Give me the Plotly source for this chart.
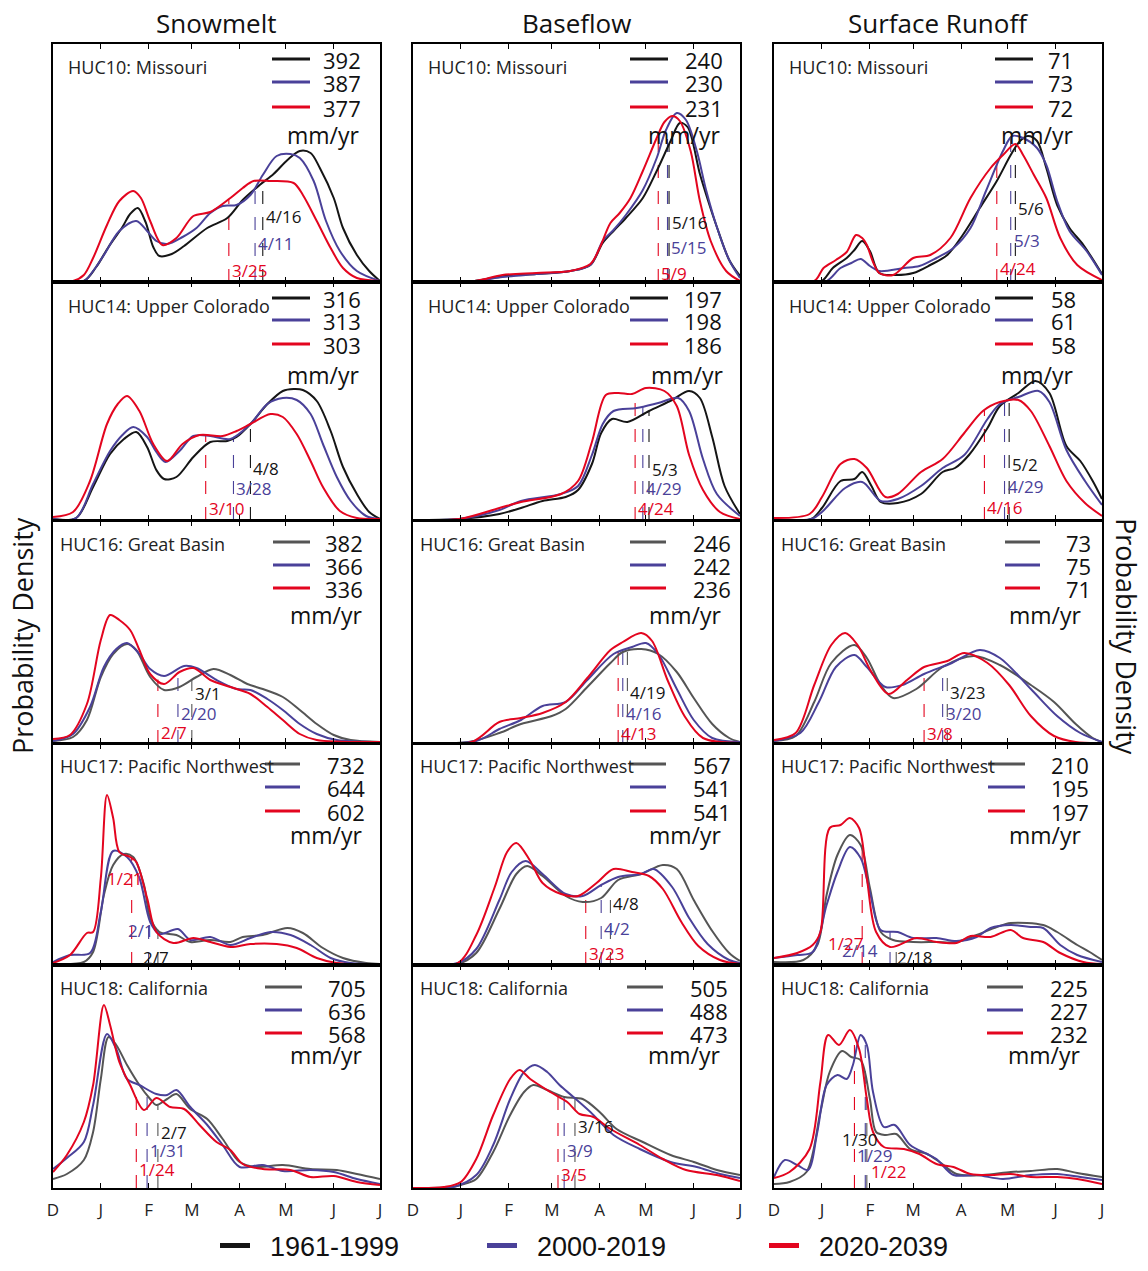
import numpy as np
import plotly.graph_objects as go

# ---------------- data ----------------
MONTH_TICK_DAYS = [0, 31, 62, 90, 121, 151, 182, 212]
MONTH_TICK_TEXT = ["D", "J", "F", "M", "A", "M", "J", "J"]
MONTH_START = {12: 0, 1: 31, 2: 62, 3: 90, 4: 121, 5: 151, 6: 182, 7: 212}

COMPONENTS = ["Snowmelt", "Baseflow", "Surface Runoff"]
REGIONS = ["HUC10: Missouri", "HUC14: Upper Colorado", "HUC16: Great Basin",
           "HUC17: Pacific Northwest", "HUC18: California"]
PERIODS = ["1961-1999", "2000-2019", "2020-2039"]

# annual totals (mm/yr), [region][period]
TOTAL_SNOW = [[392, 387, 377], [316, 313, 303], [382, 366, 336], [732, 644, 602], [705, 636, 568]]
TOTAL_BASE = [[240, 230, 231], [197, 198, 186], [246, 242, 236], [567, 541, 541], [505, 488, 473]]
TOTAL_SURF = [[71, 73, 72], [58, 61, 58], [73, 75, 71], [210, 195, 197], [225, 227, 232]]

# median (centroid) dates, [region][period]
MEDIAN_SNOW = [["4/16", "4/11", "3/25"], ["4/8", "3/28", "3/10"], ["3/1", "2/20", "2/7"],
               ["2/7", "2/1", "1/21"], ["2/7", "1/31", "1/24"]]
MEDIAN_BASE = [["5/16", "5/15", "5/9"], ["5/3", "4/29", "4/24"], ["4/19", "4/16", "4/13"],
               ["4/8", "4/2", "3/23"], ["3/16", "3/9", "3/5"]]
MEDIAN_SURF = [["5/6", "5/3", "4/24"], ["5/2", "4/29", "4/16"], ["3/23", "3/20", "3/8"],
               ["2/18", "2/14", "1/27"], ["1/30", "1/29", "1/22"]]

# probability density curves (arbitrary units), day = days since Dec 1
# each: [(days, density) for 1961-1999, 2000-2019, 2020-2039]
SNOW_MISSOURI = [
    ([0, 20, 28, 36, 45, 50, 55, 60, 65, 69, 77, 85, 100, 113, 123, 134, 143, 152, 160, 167, 173, 182, 188, 197, 205, 212],
     [0, 1, 15, 35, 55, 68, 74, 60, 35, 26, 28, 36, 54, 64, 82, 97, 108, 122, 131, 129, 114, 84, 54, 27, 11, 1]),
    ([0, 20, 26, 33, 43, 54, 61, 67, 74, 84, 93, 102, 110, 119, 128, 136, 145, 154, 160, 169, 177, 186, 197, 212],
     [0, 1, 11, 27, 51, 61, 51, 41, 38, 45, 54, 69, 76, 77, 87, 107, 126, 128, 124, 101, 61, 31, 11, 1]),
    ([0, 13, 20, 26, 35, 43, 52, 57, 63, 71, 80, 91, 102, 115, 123, 130, 141, 156, 162, 171, 180, 188, 197, 212],
     [1, 1, 7, 24, 57, 81, 91, 84, 61, 37, 44, 66, 70, 84, 94, 101, 101, 99, 87, 61, 34, 14, 4, 1]),
]
BASE_MISSOURI = [
    ([0, 40, 58, 80, 102, 115, 123, 130, 138, 149, 158, 167, 173, 178, 186, 192, 197, 205, 212],
     [0, 1, 6, 8, 11, 17, 39, 51, 64, 84, 111, 141, 159, 155, 108, 78, 55, 22, 6]),
    ([0, 40, 58, 80, 102, 115, 123, 130, 138, 149, 158, 164, 171, 177, 184, 190, 197, 205, 212],
     [0, 1, 5, 8, 11, 17, 41, 52, 67, 92, 124, 152, 169, 162, 131, 92, 55, 22, 4]),
    ([0, 40, 58, 80, 102, 115, 121, 128, 134, 141, 149, 158, 163, 168, 173, 180, 186, 193, 203, 212],
     [0, 1, 7, 9, 11, 18, 34, 59, 69, 84, 111, 144, 160, 166, 161, 131, 81, 41, 11, 1]),
]
SURF_MISSOURI = [
    ([0, 30, 38, 47, 52, 57, 62, 68, 79, 90, 101, 112, 122, 133, 144, 153, 159, 164, 170, 176, 183, 191, 200, 212],
     [0, 0, 14, 24, 32, 41, 31, 9, 7, 9, 17, 27, 47, 74, 101, 127, 141, 146, 141, 114, 77, 54, 37, 8]),
    ([0, 33, 43, 50, 56, 62, 68, 84, 94, 105, 116, 127, 137, 148, 154, 161, 170, 176, 183, 191, 202, 212],
     [0, 0, 14, 19, 23, 16, 11, 14, 16, 24, 34, 54, 91, 131, 146, 144, 134, 117, 81, 51, 31, 7]),
    ([0, 26, 32, 40, 47, 53, 57, 60, 64, 68, 77, 90, 101, 114, 127, 140, 148, 156, 161, 168, 176, 185, 196, 212],
     [0, 1, 14, 22, 30, 47, 44, 37, 20, 9, 7, 24, 27, 44, 84, 114, 127, 138, 127, 107, 84, 44, 17, 2]),
]
SNOW_UPPERCO = [
    ([0, 15, 26, 37, 46, 54, 61, 67, 72, 80, 91, 102, 113, 119, 128, 139, 149, 156, 162, 171, 180, 188, 197, 205, 212],
     [1, 2, 33, 66, 81, 88, 73, 50, 41, 43, 63, 78, 79, 83, 96, 116, 129, 131, 130, 119, 89, 53, 26, 8, 1]),
    ([0, 15, 26, 37, 45, 52, 61, 67, 73, 82, 91, 102, 115, 128, 139, 149, 158, 167, 175, 184, 193, 203, 212],
     [1, 2, 36, 69, 85, 93, 83, 68, 58, 69, 84, 84, 81, 96, 116, 122, 120, 106, 76, 43, 19, 4, 1]),
    ([0, 13, 24, 35, 42, 48, 56, 65, 74, 84, 95, 110, 119, 128, 141, 149, 158, 167, 175, 186, 197, 212],
     [3, 8, 39, 96, 116, 124, 109, 76, 59, 76, 85, 84, 89, 96, 106, 103, 86, 59, 33, 9, 2, 1]),
]
BASE_UPPERCO = [
    ([0, 30, 56, 70, 84, 99, 107, 116, 122, 129, 139, 153, 168, 179, 186, 194, 202, 212],
     [0, 1, 6, 12, 19, 23, 30, 56, 87, 101, 98, 109, 120, 129, 122, 83, 34, 6]),
    ([0, 30, 56, 70, 96, 107, 116, 123, 130, 145, 159, 172, 179, 188, 197, 212],
     [0, 1, 10, 19, 26, 34, 65, 96, 109, 112, 117, 122, 109, 61, 26, 4]),
    ([0, 30, 56, 70, 96, 107, 116, 125, 133, 142, 151, 163, 171, 179, 188, 199, 212],
     [0, 1, 12, 18, 26, 39, 78, 125, 127, 126, 132, 129, 114, 65, 30, 8, 1]),
]
SURF_UPPERCO = [
    ([0, 24, 31, 43, 52, 57, 63, 69, 80, 95, 109, 117, 126, 138, 146, 158, 169, 178, 189, 198, 206, 212],
     [0, 1, 12, 39, 41, 48, 34, 18, 17, 26, 48, 52, 65, 92, 114, 127, 139, 127, 74, 59, 39, 21]),
    ([0, 24, 31, 46, 57, 69, 80, 95, 109, 123, 138, 146, 158, 171, 178, 189, 201, 212],
     [0, 1, 8, 32, 38, 19, 21, 34, 52, 65, 101, 116, 123, 129, 118, 70, 39, 15]),
    ([0, 23, 31, 43, 52, 60, 72, 80, 95, 109, 123, 135, 146, 158, 166, 178, 189, 201, 212],
     [2, 6, 23, 56, 61, 52, 23, 26, 48, 61, 87, 109, 118, 120, 109, 74, 39, 17, 4]),
]
SNOW_GREATBASIN = [
    ([0, 13, 22, 31, 39, 48, 54, 63, 72, 82, 93, 104, 115, 126, 136, 149, 160, 171, 182, 193, 212],
     [2, 6, 23, 66, 89, 99, 93, 66, 53, 56, 66, 74, 68, 59, 54, 46, 33, 19, 8, 3, 1]),
    ([0, 13, 24, 33, 41, 48, 56, 63, 72, 85, 93, 106, 119, 128, 139, 149, 160, 171, 184, 212],
     [2, 9, 36, 76, 94, 100, 89, 74, 67, 77, 75, 63, 54, 53, 44, 33, 19, 9, 3, 1]),
    ([0, 11, 22, 31, 37, 43, 50, 56, 63, 72, 82, 91, 102, 115, 128, 139, 149, 160, 171, 212],
     [4, 8, 39, 103, 128, 123, 113, 93, 69, 59, 71, 75, 63, 56, 49, 36, 23, 9, 3, 1]),
]
BASE_GREATBASIN = [
    ([0, 36, 56, 70, 90, 99, 113, 128, 136, 148, 159, 171, 182, 194, 205, 212],
     [0, 1, 10, 19, 27, 34, 56, 80, 91, 94, 89, 71, 45, 19, 5, 1]),
    ([0, 41, 56, 70, 84, 99, 113, 130, 142, 151, 159, 171, 182, 194, 212],
     [0, 2, 14, 23, 37, 41, 63, 89, 96, 100, 89, 54, 23, 5, 1]),
    ([0, 38, 56, 70, 84, 99, 113, 128, 136, 148, 155, 165, 176, 188, 212],
     [0, 1, 21, 25, 30, 41, 65, 93, 101, 110, 102, 63, 27, 5, 0]),
]
SURF_GREATBASIN = [
    ([0, 14, 26, 37, 52, 60, 69, 77, 92, 109, 129, 146, 166, 181, 195, 206, 212],
     [2, 7, 41, 80, 98, 85, 58, 45, 54, 76, 87, 78, 58, 41, 19, 5, 1]),
    ([0, 17, 29, 40, 52, 60, 72, 83, 97, 115, 133, 146, 166, 183, 198, 212],
     [2, 10, 41, 76, 88, 76, 56, 58, 69, 80, 93, 85, 54, 27, 10, 1]),
    ([0, 14, 26, 37, 46, 54, 63, 74, 86, 97, 112, 123, 138, 152, 166, 181, 195, 212],
     [3, 10, 58, 98, 110, 98, 71, 49, 63, 76, 82, 90, 80, 58, 27, 7, 1, 0]),
]
SNOW_PACNW = [
    ([0, 20, 26, 33, 39, 46, 52, 59, 63, 69, 80, 89, 102, 115, 123, 136, 152, 162, 175, 188, 203, 212],
     [1, 3, 13, 70, 100, 111, 108, 80, 47, 33, 30, 23, 25, 23, 28, 30, 37, 32, 17, 7, 2, 1]),
    ([0, 11, 24, 31, 39, 48, 56, 63, 69, 81, 89, 102, 115, 128, 141, 154, 167, 180, 193, 212],
     [3, 10, 12, 53, 114, 108, 87, 43, 31, 36, 25, 28, 20, 27, 33, 30, 20, 7, 2, 1]),
    ([0, 11, 22, 26, 31, 35, 39, 43, 50, 54, 61, 67, 78, 91, 102, 115, 128, 145, 158, 171, 184, 212],
     [2, 10, 32, 33, 87, 170, 147, 113, 108, 103, 67, 33, 22, 27, 23, 18, 21, 21, 17, 7, 2, 0]),
]
BASE_PACNW = [
    ([0, 29, 41, 56, 67, 74, 84, 99, 110, 122, 133, 148, 162, 171, 182, 194, 205, 212],
     [0, 1, 12, 56, 91, 99, 89, 69, 63, 67, 85, 91, 100, 96, 65, 34, 12, 4]),
    ([0, 29, 41, 56, 64, 73, 84, 99, 110, 122, 133, 148, 156, 168, 179, 191, 205, 212],
     [0, 2, 16, 65, 93, 104, 91, 71, 69, 80, 88, 91, 96, 78, 47, 21, 5, 2]),
    ([0, 29, 41, 53, 61, 67, 76, 84, 96, 107, 119, 130, 142, 153, 162, 174, 185, 199, 212],
     [0, 2, 30, 78, 113, 122, 104, 82, 71, 69, 82, 96, 93, 89, 76, 43, 19, 5, 1]),
]
SURF_PACNW = [
    ([0, 19, 28, 34, 41, 49, 56, 62, 69, 77, 90, 105, 118, 131, 144, 153, 174, 183, 196, 204, 212],
     [3, 5, 20, 70, 110, 130, 120, 77, 33, 25, 23, 23, 23, 30, 38, 42, 40, 33, 20, 13, 5]),
    ([0, 15, 25, 34, 41, 49, 56, 62, 69, 80, 90, 105, 118, 131, 140, 153, 166, 174, 185, 196, 212],
     [7, 10, 13, 60, 93, 118, 107, 73, 35, 33, 27, 27, 24, 28, 37, 40, 38, 37, 20, 10, 3]),
    ([0, 15, 25, 30, 36, 43, 49, 55, 60, 66, 75, 92, 105, 118, 127, 140, 153, 161, 174, 185, 200, 212],
     [7, 12, 20, 33, 137, 140, 147, 137, 87, 33, 18, 27, 23, 22, 29, 28, 35, 27, 23, 12, 3, 1]),
]
SNOW_CALIF = [
    ([0, 9, 20, 26, 31, 36, 41, 48, 56, 63, 67, 74, 80, 89, 100, 110, 121, 132, 149, 167, 184, 197, 212],
     [9, 14, 28, 56, 109, 151, 143, 123, 103, 89, 83, 89, 94, 79, 69, 49, 26, 21, 23, 19, 18, 14, 9]),
    ([0, 9, 20, 26, 35, 41, 48, 56, 67, 74, 80, 89, 100, 110, 121, 136, 149, 167, 182, 197, 212],
     [19, 30, 46, 83, 154, 139, 109, 103, 94, 93, 98, 81, 63, 43, 21, 23, 17, 18, 16, 9, 4]),
    ([0, 9, 20, 26, 33, 37, 43, 50, 59, 67, 76, 85, 95, 106, 115, 123, 136, 154, 167, 182, 197, 212],
     [16, 33, 66, 103, 183, 163, 126, 103, 78, 90, 81, 79, 63, 46, 38, 24, 19, 18, 11, 12, 6, 3]),
]
BASE_CALIF = [
    ([0, 26, 31, 41, 52, 63, 72, 78, 87, 98, 110, 121, 132, 149, 167, 182, 197, 212],
     [0, 1, 3, 9, 36, 73, 96, 103, 98, 91, 89, 76, 59, 46, 33, 26, 18, 13]),
    ([0, 26, 41, 52, 63, 72, 79, 87, 95, 104, 115, 130, 147, 167, 184, 199, 212],
     [0, 1, 13, 43, 89, 116, 123, 116, 103, 91, 76, 53, 39, 26, 21, 14, 10]),
    ([0, 20, 31, 41, 52, 63, 69, 76, 89, 100, 108, 117, 128, 147, 162, 177, 197, 212],
     [0, 1, 6, 29, 73, 109, 118, 109, 96, 86, 74, 71, 59, 43, 29, 18, 13, 7]),
]
SURF_CALIF = [
    ([0, 10, 21, 30, 36, 44, 50, 56, 62, 66, 72, 79, 88, 99, 107, 118, 135, 153, 166, 183, 196, 212],
     [4, 6, 16, 76, 116, 137, 131, 128, 89, 56, 53, 54, 39, 34, 26, 14, 13, 16, 17, 19, 15, 11]),
    ([0, 7, 15, 22, 28, 34, 41, 47, 51, 56, 60, 64, 71, 78, 88, 99, 105, 116, 131, 148, 166, 183, 198, 212],
     [11, 28, 23, 18, 56, 103, 113, 109, 123, 153, 143, 96, 61, 63, 43, 34, 29, 13, 13, 9, 13, 14, 11, 8]),
    ([0, 10, 23, 30, 35, 42, 49, 55, 60, 64, 71, 84, 94, 105, 116, 127, 140, 153, 166, 183, 196, 212],
     [10, 16, 39, 106, 153, 143, 158, 139, 89, 56, 41, 39, 34, 24, 21, 14, 13, 14, 11, 11, 9, 4]),
]

CURVES = [
    [SNOW_MISSOURI, BASE_MISSOURI, SURF_MISSOURI],
    [SNOW_UPPERCO, BASE_UPPERCO, SURF_UPPERCO],
    [SNOW_GREATBASIN, BASE_GREATBASIN, SURF_GREATBASIN],
    [SNOW_PACNW, BASE_PACNW, SURF_PACNW],
    [SNOW_CALIF, BASE_CALIF, SURF_CALIF],
]
TOTALS = [TOTAL_SNOW, TOTAL_BASE, TOTAL_SURF]
MEDIANS = [MEDIAN_SNOW, MEDIAN_BASE, MEDIAN_SURF]

# ---------------- layout / style ----------------
# page body has an 8px margin, so the figure is 16px smaller than the window
W, H = 1132, 1255
OFF = 8
COL_PX = [(53, 380), (413, 740), (774, 1102)]
ROW_PX = [(44, 282), (282, 520), (521, 743), (744, 965), (965, 1188)]
PL, PR, PT, PB = 53, 1102, 44, 1188
FONT = "Open Sans, Noto Sans, sans-serif"
LEGFONT = "Liberation Sans, Arial, sans-serif"
BLUE = "#4a4199"
RED = "#e3051f"
BLACK = "#151515"
DARK = [BLACK, BLACK, "#555555", "#555555", "#555555"]

# median label placement per panel: (x shift px, height above baseline) for each period
LABEL_POS = [
    [[(1, 66), (1, 39), (1, 12)], [(1, 60), (1, 35), (1, 9)], [(1, 74), (1, 42), (1, 14)]],
    [[(1, 52), (1, 32), (1, 12)], [(1, 51), (1, 32), (1, 12)], [(1, 56), (1, 34), (1, 13)]],
    [[(1, 50), (1, 30), (1, 11)], [(1, 51), (1, 30), (1, 10)], [(1, 51), (1, 30), (1, 10)]],
    [[(-17, 8), (-23, 35), (-27, 87)], [(1, 62), (1, 37), (1, 12)], [(-1, 8), (-50, 15), (-36, 22)]],
    [[(1, 56), (1, 38), (1, 19)], [(1, 62), (1, 38), (1, 14)], [(-27, 49), (-10, 33), (15, 17)]],
]
# in-panel legend: line x (from panel right), line y (from panel top), number right edge, mm/yr
LEG_LINE_X = [
    [(-108, -70), (-110, -72), (-107, -69)],
    [(-108, -70), (-110, -72), (-107, -69)],
    [(-107, -70), (-110, -74), (-97, -62)],
    [(-115, -80), (-110, -74), (-114, -77)],
    [(-115, -78), (-113, -77), (-115, -79)],
]
LEG_LINE_Y = [(15, 38, 63), (16, 38, 62), (21, 44, 67), (20, 43, 67), (22, 45, 68)]
NUM_RIGHT = [[-17, -15, -27], [-17, -16, -24], [-15, -7, -9], [-13, -7, -11], [-12, -10, -12]]
MM_RIGHT = [[-18, -17, -26], [-18, -14, -26], [-15, -16, -18], [-15, -16, -18], [-15, -17, -19]]
MM_Y = [91, 93, 94, 91, 90]
HUC_X = [13, 13, 5, 5, 5]
HUC_Y = [23, 24, 23, 22, 23]


def px_x(px):
    return (px - PL) / (PR - PL)


def px_y(py):
    return (PB - py) / (PB - PT)


def date_to_day(s):
    m, d = (int(v) for v in s.split("/"))
    return MONTH_START[m] + d - 1


fig = go.Figure()
layout = dict(
    width=W, height=H,
    margin=dict(l=PL - OFF, r=W - (PR - OFF), t=PT - OFF, b=H - (PB - OFF), autoexpand=False),
    paper_bgcolor="white", plot_bgcolor="white",
    font=dict(family=FONT, color="#1a1a1a"),
)
shapes, annotations = [], []

for r in range(5):
    for c in range(3):
        n = r * 3 + c + 1
        xs = "x" if n == 1 else f"x{n}"
        ys = "y" if n == 1 else f"y{n}"
        x0p, x1p = COL_PX[c]
        y0p, y1p = ROW_PX[r]
        hpx = y1p - y0p
        colors = [DARK[r], BLUE, RED]
        text_colors = [BLACK, BLUE, RED]
        layout["xaxis" if n == 1 else f"xaxis{n}"] = dict(
            domain=[px_x(x0p), px_x(x1p)], anchor=ys, range=[0, 212],
            tickvals=MONTH_TICK_DAYS, ticktext=MONTH_TICK_TEXT,
            showticklabels=(r == 4), ticks="inside", ticklen=5, tickwidth=1,
            tickcolor="black", showline=True, linecolor="black", linewidth=1.5,
            mirror="ticks", showgrid=False, zeroline=False,
            tickfont=dict(size=17, color="#222"), ticklabelstandoff=6,
        )
        layout["yaxis" if n == 1 else f"yaxis{n}"] = dict(
            domain=[px_y(y1p), px_y(y0p)], anchor=xs, range=[0, hpx],
            showticklabels=False, ticks="", showline=True, linecolor="black",
            linewidth=1.5, mirror=True, showgrid=False, zeroline=False,
        )
        series = CURVES[r][c]
        for k in range(3):
            days, dens = series[k]
            fig.add_trace(go.Scatter(
                x=days, y=dens, xaxis=xs, yaxis=ys, mode="lines",
                line=dict(color=colors[k], width=2, shape="spline", smoothing=0.9),
                name=PERIODS[k], showlegend=False, legendgroup=PERIODS[k],
                hoverinfo="skip",
            ))
        # median lines + labels
        for k in range(3):
            days, dens = series[k]
            md = date_to_day(MEDIANS[c][r][k])
            top = float(np.interp(md, days, dens))
            shapes.append(dict(type="line", xref=xs, yref=ys, x0=md, x1=md, y0=0, y1=top,
                               line=dict(color=colors[k], width=1.1, dash="13px,13px"),
                               layer="below"))
            dx, hy = LABEL_POS[r][c][k]
            annotations.append(dict(
                xref=xs, yref=ys, x=md, y=hy, text=MEDIANS[c][r][k], showarrow=False,
                xanchor="left", yanchor="middle", xshift=dx,
                font=dict(size=17, color=text_colors[k], family=FONT)))
        # region label
        annotations.append(dict(
            xref="paper", yref="paper", x=px_x(x0p + HUC_X[r]), y=px_y(y0p + HUC_Y[r]),
            text=REGIONS[r], showarrow=False, xanchor="left", yanchor="middle",
            font=dict(size=18, color="#222", family=FONT)))
        # in-panel legend of annual totals
        lx0, lx1 = LEG_LINE_X[r][c]
        for k in range(3):
            ly = y0p + LEG_LINE_Y[r][k]
            shapes.append(dict(type="line", xref="paper", yref="paper",
                               x0=px_x(x1p + lx0), x1=px_x(x1p + lx1),
                               y0=px_y(ly), y1=px_y(ly),
                               line=dict(color=colors[k], width=3)))
            annotations.append(dict(
                xref="paper", yref="paper", x=px_x(x1p + NUM_RIGHT[r][c]), y=px_y(ly + 1),
                text=str(TOTALS[c][r][k]), showarrow=False, xanchor="right", yanchor="middle",
                font=dict(size=22, color="#111", family=FONT)))
        annotations.append(dict(
            xref="paper", yref="paper", x=px_x(x1p + MM_RIGHT[r][c]), y=px_y(y0p + MM_Y[r]),
            text="mm/yr", showarrow=False, xanchor="right", yanchor="middle",
            font=dict(size=23, color="#111", family=FONT)))

# figure legend (period key), entries only
for k, name in enumerate(PERIODS):
    fig.add_trace(go.Scatter(
        x=[None], y=[None], mode="lines", name="\u00a0\u00a0" + name,
        line=dict(color=[BLACK, BLUE, RED][k], width=3.5),
        legendgroup=name, showlegend=True, legendwidth=[222, 237, 150][k],
        hoverinfo="skip",
    ))

# column titles
for c, name in enumerate(COMPONENTS):
    annotations.append(dict(
        xref="paper", yref="paper", x=px_x((COL_PX[c][0] + COL_PX[c][1]) / 2), y=px_y(23),
        text=name, showarrow=False, xanchor="center", yanchor="middle",
        font=dict(size=26, color="#111", family=FONT)))
# y titles
annotations.append(dict(xref="paper", yref="paper", x=px_x(22), y=px_y(636),
                        text="Probability Density", showarrow=False, textangle=-90,
                        xanchor="center", yanchor="middle",
                        font=dict(size=27, color="#111", family=FONT)))
annotations.append(dict(xref="paper", yref="paper", x=px_x(1127), y=px_y(636),
                        text="Probability Density", showarrow=False, textangle=90,
                        xanchor="center", yanchor="middle",
                        font=dict(size=27, color="#111", family=FONT)))

layout["shapes"] = shapes
layout["annotations"] = annotations
layout["legend"] = dict(
    orientation="h", x=px_x(215), y=px_y(1246), xanchor="left", yanchor="middle",
    font=dict(size=27, family=LEGFONT, color="#111"), bgcolor="rgba(0,0,0,0)",
    itemsizing="constant", tracegroupgap=0,
)
fig.update_layout(**layout)
fig.write_html("out.html")
